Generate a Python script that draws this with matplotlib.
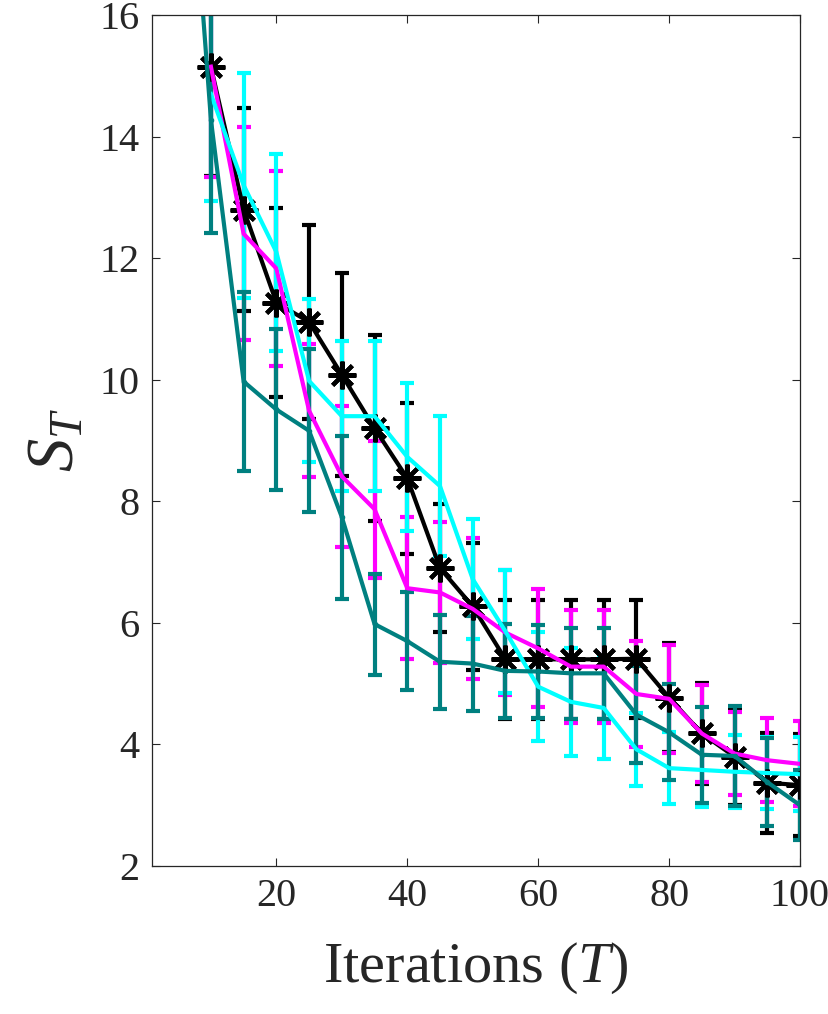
'''
    S_T versus iterations, four methods with error bars
'''

import matplotlib
matplotlib.use('Agg')
import matplotlib.pyplot as plt
import numpy as np

plt.rcParams['font.family'] = ['Liberation Serif', 'DejaVu Serif']
plt.rcParams['mathtext.fontset'] = 'custom'
plt.rcParams['mathtext.rm'] = 'Liberation Serif'
plt.rcParams['mathtext.it'] = 'Liberation Serif:italic'

# iterations
iters = [10, 15, 20, 25, 30, 35, 40, 45, 50, 55, 60, 65, 70, 75, 80, 85, 90, 95, 100]
iters_teal = [5] + iters

# black (asterisk)
black_mean = [15.15, 12.80, 11.27, 10.95, 10.08, 9.20, 8.38, 6.90, 6.27, 5.40, 5.40, 5.40,
              5.40, 5.41, 4.77, 4.18, 3.80, 3.37, 3.33]
black_err = [1.80, 1.67, 1.55, 1.60, 1.67, 1.53, 1.24, 1.05, 1.04, 0.98, 0.98, 0.98,
             0.98, 0.97, 0.90, 0.83, 0.80, 0.82, 0.84]

# magenta
mag_mean = [15.15, 12.40, 11.83, 9.49, 8.41, 7.87, 6.57, 6.50, 6.23, 5.84, 5.58, 5.28,
            5.28, 4.83, 4.75, 4.18, 3.85, 3.74, 3.68]
mag_err = [1.82, 1.75, 1.60, 1.09, 1.16, 1.13, 1.17, 1.16, 1.16, 1.03, 0.97, 0.93,
           0.93, 0.87, 0.89, 0.80, 0.68, 0.69, 0.70]

# cyan
cyan_mean = [14.70, 13.20, 12.10, 9.98, 9.40, 9.40, 8.73, 8.25, 6.72, 5.86, 4.95, 4.70,
             4.60, 3.92, 3.61, 3.58, 3.55, 3.53, 3.51]
cyan_err = [1.76, 1.85, 1.62, 1.34, 1.23, 1.23, 1.22, 1.15, 0.99, 1.01, 0.90, 0.89,
            0.84, 0.60, 0.59, 0.61, 0.60, 0.59, 0.61]

# teal
teal_mean = [21.5, 14.28, 9.97, 9.51, 9.16, 7.74, 5.98, 5.70, 5.36, 5.33, 5.21, 5.20,
             5.17, 5.17, 4.49, 4.20, 3.83, 3.81, 3.38, 3.00]
teal_err = [1.90, 1.87, 1.47, 1.32, 1.34, 1.34, 0.83, 0.81, 0.77, 0.78, 0.77, 0.77,
            0.75, 0.75, 0.80, 0.79, 0.79, 0.82, 0.72, 0.58]

xticks = [20, 40, 60, 80, 100]
yticks = [2, 4, 6, 8, 10, 12, 14, 16]

fig = plt.figure(figsize=(8.29, 10.14), dpi=100)
ax = fig.add_axes([152/829, 148/1014, 648/829, 851/1014])

lw = 3.0
cap = 5
ax.errorbar(iters, black_mean, yerr=black_err, color='black', lw=lw, capsize=cap, capthick=lw,
            marker=(8, 2, 0), markersize=20, markeredgewidth=3.0)
ax.errorbar(iters, mag_mean, yerr=mag_err, color='#FF00FF', lw=lw, capsize=cap, capthick=lw)
ax.errorbar(iters, cyan_mean, yerr=cyan_err, color='#00FFFF', lw=lw, capsize=cap, capthick=lw)
ax.errorbar(iters_teal, teal_mean, yerr=teal_err, color='#008080', lw=lw, capsize=cap,
            capthick=lw, marker='.', markersize=6)

ax.set_xlim([1, 100])
ax.set_ylim([2, 16])
ax.set_xticks(xticks)
ax.set_yticks(yticks)
ax.tick_params(direction='in', length=6, width=0.8, top=True, right=True,
               labelsize=29, colors='#262626', pad=9)
for s in ax.spines.values():
    s.set_color('#262626')
    s.set_linewidth(0.9)

ax.set_xlabel('Iterations ($\\mathit{T}$)', fontsize=42, color='#262626', labelpad=18)
ax.set_ylabel('$\\mathit{S}_{\\mathit{T}}$', fontsize=48, color='#262626', labelpad=8)

fig.savefig('out.png', dpi=100)
